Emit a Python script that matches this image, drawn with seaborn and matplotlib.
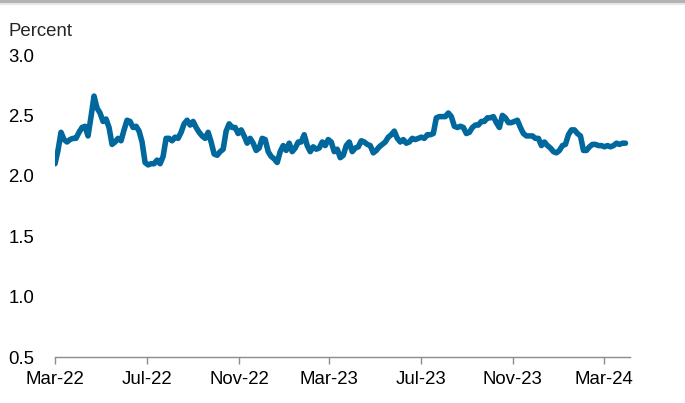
import matplotlib
matplotlib.use("Agg")
import matplotlib.pyplot as plt
from matplotlib.patches import Rectangle
import seaborn as sns
import pandas as pd

start_date = "2022-03-01"
step = "4D"
values = [
    2.10, 2.21, 2.36, 2.30, 2.28, 2.30, 2.31, 2.31, 2.36, 2.40,
    2.41, 2.33, 2.49, 2.66, 2.56, 2.52, 2.45, 2.47, 2.40, 2.26,
    2.28, 2.31, 2.29, 2.38, 2.46, 2.45, 2.40, 2.41, 2.37, 2.28,
    2.11, 2.09, 2.10, 2.10, 2.13, 2.10, 2.16, 2.31, 2.31, 2.29,
    2.32, 2.31, 2.36, 2.43, 2.46, 2.42, 2.45, 2.40, 2.36, 2.33,
    2.31, 2.36, 2.28, 2.18, 2.17, 2.20, 2.22, 2.37, 2.43, 2.40,
    2.40, 2.35, 2.38, 2.33, 2.27, 2.31, 2.27, 2.21, 2.23, 2.31,
    2.30, 2.20, 2.16, 2.14, 2.11, 2.20, 2.25, 2.21, 2.27, 2.20,
    2.23, 2.28, 2.28, 2.34, 2.25, 2.20, 2.24, 2.22, 2.23, 2.28,
    2.25, 2.30, 2.28, 2.20, 2.22, 2.15, 2.17, 2.25, 2.28, 2.20,
    2.23, 2.24, 2.29, 2.28, 2.26, 2.25, 2.19, 2.21, 2.24, 2.26,
    2.28, 2.32, 2.34, 2.37, 2.31, 2.28, 2.30, 2.27, 2.28, 2.31,
    2.30, 2.31, 2.32, 2.31, 2.34, 2.34, 2.35, 2.48, 2.49, 2.49,
    2.49, 2.52, 2.49, 2.41, 2.40, 2.41, 2.40, 2.35, 2.36, 2.40,
    2.42, 2.42, 2.45, 2.45, 2.48, 2.48, 2.49, 2.44, 2.40, 2.50,
    2.48, 2.44, 2.44, 2.45, 2.46, 2.40, 2.35, 2.33, 2.33, 2.33,
    2.31, 2.31, 2.25, 2.28, 2.25, 2.23, 2.20, 2.19, 2.21, 2.25,
    2.26, 2.34, 2.38, 2.38, 2.35, 2.33, 2.21, 2.21, 2.24, 2.26,
    2.26, 2.25, 2.25, 2.24, 2.25, 2.24, 2.25, 2.27, 2.26, 2.27,
    2.27,
]
tick_dates = ["2022-03-01", "2022-07-01", "2022-11-01", "2023-03-01",
              "2023-07-01", "2023-11-01", "2024-03-01"]
tick_labels = ["Mar-22", "Jul-22", "Nov-22", "Mar-23", "Jul-23", "Nov-23", "Mar-24"]
y_ticks = [0.5, 1.0, 1.5, 2.0, 2.5, 3.0]
y_label = "Percent"

dates = pd.date_range(start_date, periods=len(values), freq=step)
df = pd.DataFrame({"date": dates, "value": values})

sns.set_style("white")
plt.rcParams["font.family"] = ["Liberation Sans", "DejaVu Sans"]
fs = 13.4

fig = plt.figure(figsize=(6.85, 4.03), dpi=100)
ax = fig.add_axes([55/685, 1-357/403, (630-55)/685, (357-55)/403])

sns.lineplot(data=df, x="date", y="value", ax=ax, color="#00689c",
             linewidth=4.0, solid_joinstyle="round", solid_capstyle="round")

ax.set_ylim(0.5, 3.0)
ax.set_xlim(pd.Timestamp("2022-03-01"), pd.Timestamp("2024-04-05"))
ax.set_yticks(y_ticks)
ax.set_yticklabels([f"{v:.1f}" for v in y_ticks])
ax.set_xticks(pd.to_datetime(tick_dates))
ax.set_xticklabels(tick_labels)
ax.set_xlabel("")
ax.set_ylabel("")

for s in ["top", "right", "left"]:
    ax.spines[s].set_visible(False)
ax.spines["bottom"].set_color("#8c8c8c")
ax.spines["bottom"].set_linewidth(1.0)
ax.tick_params(axis="x", bottom=True, direction="out", length=5, width=1,
               color="#8c8c8c", labelsize=fs, pad=5, labelcolor="#000000")
ax.tick_params(axis="y", left=False, length=0, labelsize=fs, pad=15,
               labelcolor="#000000")
ax.grid(False)

fig.text(8/685, 1-32/403, y_label, fontsize=fs, ha="left", va="center")

fig.patches.append(Rectangle((0, 1-3/403), 1, 3/403, transform=fig.transFigure,
                             facecolor="#b3b3b3", edgecolor="none"))
fig.patches.append(Rectangle((0, 1-5/403), 1, 2/403, transform=fig.transFigure,
                             facecolor="#e6e6e6", edgecolor="none"))

fig.savefig("out.png", dpi=100)
